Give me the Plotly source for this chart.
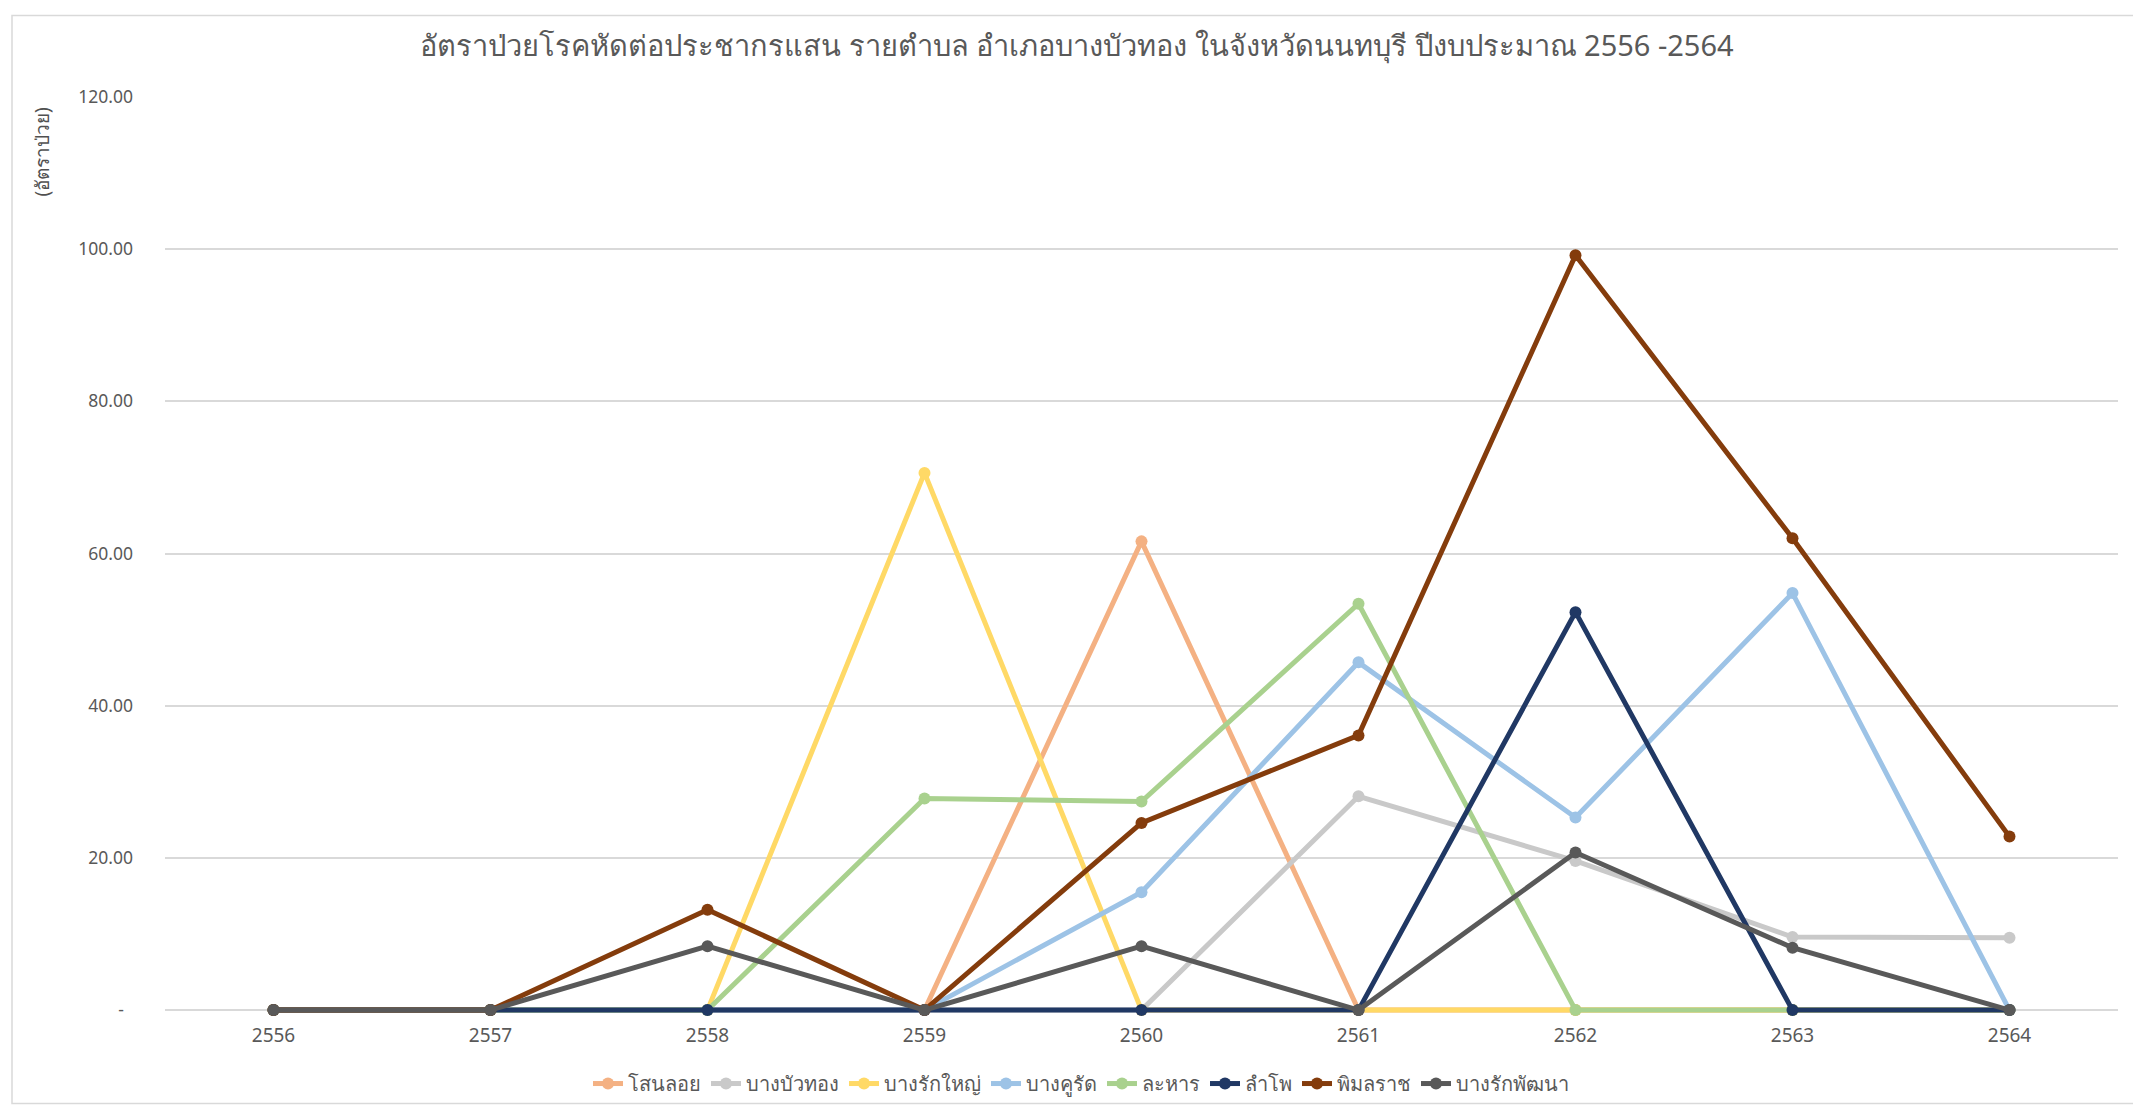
import plotly.graph_objects as go

years = [2556, 2557, 2558, 2559, 2560, 2561, 2562, 2563, 2564]

sanoloi      = [0, 0, 0, 0, 61.6, 0, 0, 0, 0]
bangbuathong = [0, 0, 0, 0, 0, 28.1, 19.6, 9.6, 9.5]
bangrakyai   = [0, 0, 0, 70.6, 0, 0, 0, 0, 0]
bangkhurat   = [0, 0, 0, 0, 15.5, 45.7, 25.3, 54.8, 0]
lahan        = [0, 0, 0, 27.8, 27.4, 53.4, 0, 0, 0]
lampho       = [0, 0, 0, 0, 0, 0, 52.3, 0, 0]
phimonrat    = [0, 0, 13.2, 0, 24.6, 36.1, 99.2, 62.0, 22.8]
bangrakphatthana = [0, 0, 8.4, 0, 8.4, 0, 20.7, 8.2, 0]

series_names = ["โสนลอย", "บางบัวทอง", "บางรักใหญ่", "บางคูรัด", "ละหาร", "ลำโพ", "พิมลราช", "บางรักพัฒนา"]
series_values = [sanoloi, bangbuathong, bangrakyai, bangkhurat, lahan, lampho, phimonrat, bangrakphatthana]
series_colors = ["#F4B183", "#C9C9C9", "#FFD966", "#9DC3E6", "#A9D18E", "#203864", "#843C0C", "#595959"]

y_tickvals = [0, 20, 40, 60, 80, 100, 120]
y_ticktext = ["-\u00a0\u00a0", "20.00", "40.00", "60.00", "80.00", "100.00", "120.00"]

title_text = "อัตราป่วยโรคหัดต่อประชากรแสน รายตำบล อำเภอบางบัวทอง ในจังหวัดนนทบุรี ปีงบประมาณ 2556 -2564"
ytitle_text = "(อัตราป่วย)"

FONT = "Segoe UI, Noto Sans, Open Sans, sans-serif"
TXT = "#595959"

fig = go.Figure()
for name, vals, col in zip(series_names, series_values, series_colors):
    fig.add_trace(go.Scatter(
        x=years, y=vals, name=name, mode="lines+markers",
        line=dict(color=col, width=5),
        marker=dict(color=col, size=12),
        cliponaxis=False,
    ))

W, H = 2141, 1107
# pixel positions of the value axis (0 at 1009, 120 at 89)
Y0PX, Y120PX = 1009, 89
L, R, T = 157, 31, Y120PX
EXT = 12  # extra pixels below zero so lines on zero are not clipped
B = H - Y0PX - EXT
pw, ph = W - L - R, H - T - B
ppu = (Y0PX - Y120PX) / 120.0
ylo = -EXT / ppu

def px_x(p):
    return (p - L) / pw

def px_y(p):
    return (H - B - p) / ph

fig.update_layout(
    width=W, height=H,
    margin=dict(l=L, r=R, t=T, b=B),
    paper_bgcolor="white", plot_bgcolor="white",
    font=dict(family=FONT, color=TXT, size=19),
    title=dict(text=title_text, x=1069 / W, xanchor="center", y=1 - 38 / H, yanchor="middle",
               xref="container", yref="container",
               font=dict(size=29, color=TXT, family=FONT)),
    showlegend=True,
    legend=dict(orientation="h", x=px_x(1073), xanchor="center", y=px_y(1083), yanchor="middle",
                font=dict(size=20, color=TXT, family=FONT), bgcolor="rgba(0,0,0,0)",
                itemwidth=30, traceorder="normal"),
    xaxis=dict(range=[2555.5, 2564.5], tickvals=years, ticktext=[str(y) for y in years],
               showgrid=False, zeroline=False, showline=False, ticks="",
               tickfont=dict(size=19, color=TXT, family=FONT), ticklabelstandoff=0),
    yaxis=dict(range=[ylo, 120], tickvals=y_tickvals, ticktext=y_ticktext,
               showgrid=True, gridcolor="#D9D9D9", gridwidth=1.5, zeroline=False, showline=False,
               ticks="", tickfont=dict(size=17.5, color=TXT, family=FONT), ticklabelstandoff=31),
    annotations=[dict(text=ytitle_text, xref="paper", yref="paper", x=px_x(34), y=px_y(145),
                      xanchor="center", yanchor="middle", textangle=-90, showarrow=False,
                      font=dict(size=19, color="#505050", family=FONT))],
    shapes=[dict(type="rect", xref="paper", yref="paper",
                 x0=px_x(4), x1=px_x(2134), y0=px_y(1103), y1=px_y(7),
                 line=dict(color="#D9D9D9", width=1.5), fillcolor="rgba(0,0,0,0)", layer="below")],
)

fig.write_html("out.html")
